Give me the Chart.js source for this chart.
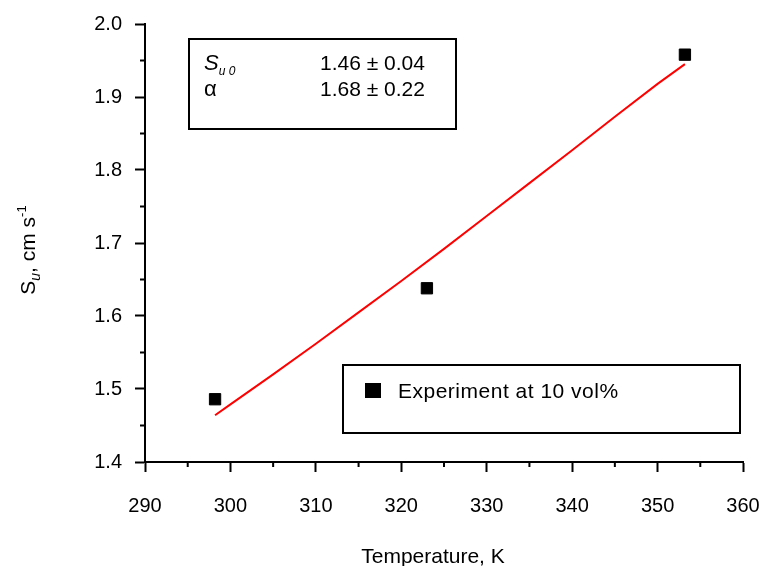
<!DOCTYPE html>
<html>
<head>
<meta charset="utf-8">
<script src="https://cdn.jsdelivr.net/npm/chart.js@4/dist/chart.umd.min.js"></script>
<style>
  html, body { margin: 0; padding: 0; background: #fff; }
  #wrap { width: 760px; height: 566px; }
</style>
</head>
<body>
<div id="wrap"><canvas id="myChart" width="760" height="566"></canvas></div>
<script>
// measured laminar burning velocity
var expTemp = [298.2, 323.0, 353.2];
var expSu = [1.486, 1.638, 1.958];

// fitted curve
var fitTemp = [298.2, 300, 305, 310, 315, 320, 325, 330, 335, 340, 345, 350, 353.2];
var fitSu = [1.464, 1.479, 1.520, 1.562, 1.605, 1.648, 1.692, 1.737, 1.782, 1.827, 1.873, 1.918, 1.945];

var xMajor = [290, 300, 310, 320, 330, 340, 350, 360];
var xMinor = [295, 305, 315, 325, 335, 345, 355];
var yMajor = [1.4, 1.5, 1.6, 1.7, 1.8, 1.9, 2.0];
var yMinor = [1.45, 1.55, 1.65, 1.75, 1.85, 1.95];

var FONT = "'Liberation Sans', Arial, sans-serif";

function pts(xs, ys) {
  return xs.map(function (x, i) { return { x: x, y: ys[i] }; });
}

// draws a row of text runs {t, size, dy, italic, sp}
function drawRuns(ctx, runs, x, y, align) {
  var total = 0;
  runs.forEach(function (r) {
    ctx.font = (r.italic ? 'italic ' : '') + r.size + 'px ' + FONT;
    ctx.letterSpacing = (r.sp || 0) + 'px';
    r.w = ctx.measureText(r.t).width;
    total += r.w;
  });
  var cx = align === 'center' ? x - total / 2 : x;
  ctx.textAlign = 'left';
  ctx.textBaseline = 'alphabetic';
  runs.forEach(function (r) {
    ctx.font = (r.italic ? 'italic ' : '') + r.size + 'px ' + FONT;
    ctx.letterSpacing = (r.sp || 0) + 'px';
    ctx.fillText(r.t, cx, y + (r.dy || 0));
    cx += r.w;
  });
  ctx.letterSpacing = '0px';
}

var decorations = {
  id: 'decorations',
  afterDraw: function (chart) {
    var ctx = chart.ctx;
    var xs = chart.scales.x, ys = chart.scales.y;
    var area = chart.chartArea;
    ctx.save();
    ctx.strokeStyle = '#000';
    ctx.fillStyle = '#000';
    ctx.lineWidth = 2;

    // minor ticks
    ctx.beginPath();
    xMinor.forEach(function (v) {
      var p = xs.getPixelForValue(v);
      ctx.moveTo(p, area.bottom);
      ctx.lineTo(p, area.bottom + 5);
    });
    yMinor.forEach(function (v) {
      var p = ys.getPixelForValue(v);
      ctx.moveTo(area.left, p);
      ctx.lineTo(area.left - 5, p);
    });
    ctx.stroke();

    // parameter box
    ctx.strokeRect(189, 39, 267, 90);
    drawRuns(ctx, [{ t: 'S', size: 22, italic: true }, { t: 'u 0', size: 12, italic: true, dy: 5 }], 204, 70);
    drawRuns(ctx, [{ t: '\u03b1', size: 22 }], 204, 96);
    drawRuns(ctx, [{ t: '1.46', size: 21 }, { t: ' \u00b1 ', size: 21 }, { t: '0.04', size: 21 }], 320, 70);
    drawRuns(ctx, [{ t: '1.68', size: 21 }, { t: ' \u00b1 ', size: 21 }, { t: '0.22', size: 21 }], 320, 96);

    // legend box
    ctx.strokeRect(343, 365, 397, 68);
    ctx.fillRect(365, 383, 16, 15);
    drawRuns(ctx, [{ t: 'Experiment at 10 vol%', size: 21, sp: 0.5 }], 398, 398);

    // axis titles
    drawRuns(ctx, [{ t: 'Temperature, K', size: 21 }], 433, 563, 'center');
    ctx.translate(35, 250);
    ctx.rotate(-Math.PI / 2);
    drawRuns(ctx, [
      { t: 'S', size: 21 },
      { t: 'u', size: 14, italic: true, dy: 5 },
      { t: ', cm s', size: 21 },
      { t: '-1', size: 13, dy: -9 }
    ], 0, 0, 'center');
    ctx.restore();
  }
};

var myChart = new Chart(document.getElementById('myChart'), {
  type: 'scatter',
  data: {
    datasets: [{
      label: 'Experiment at 10 vol%',
      data: pts(expTemp, expSu),
      pointStyle: 'rect',
      pointRadius: 8,
      backgroundColor: '#000',
      borderColor: '#000',
      borderWidth: 1,
      order: 1
    }, {
      label: 'fit',
      type: 'line',
      data: pts(fitTemp, fitSu),
      borderColor: '#ff0000',
      borderWidth: 2,
      pointRadius: 0,
      fill: false,
      tension: 0,
      order: 2
    }]
  },
  options: {
    responsive: false,
    animation: false,
    layout: { padding: { left: 0, top: 24, right: 17, bottom: 0 } },
    plugins: {
      legend: { display: false },
      tooltip: { enabled: false }
    },
    scales: {
      x: {
        type: 'linear',
        min: 290,
        max: 360,
        afterBuildTicks: function (s) { s.ticks = xMajor.map(function (v) { return { value: v }; }); },
        afterFit: function (s) { s.height = 104; s.paddingLeft = 0; s.paddingRight = 0; },
        grid: { drawOnChartArea: false, drawTicks: true, tickLength: 10, tickWidth: 2, tickColor: '#000' },
        border: { display: true, color: '#000', width: 2 },
        ticks: { color: '#000', font: { family: FONT, size: 20 }, padding: 22, maxRotation: 0 }
      },
      y: {
        min: 1.4,
        max: 2.0,
        afterBuildTicks: function (s) { s.ticks = yMajor.map(function (v) { return { value: v }; }); },
        afterFit: function (s) { s.width = 145; s.paddingTop = 0; s.paddingBottom = 0; },
        grid: { drawOnChartArea: false, drawTicks: true, tickLength: 10, tickWidth: 2, tickColor: '#000' },
        border: { display: true, color: '#000', width: 2 },
        ticks: {
          color: '#000',
          font: { family: FONT, size: 20 },
          padding: 13,
          callback: function (v) { return v.toFixed(1); }
        }
      }
    }
  },
  plugins: [decorations]
});
</script>
</body>
</html>
